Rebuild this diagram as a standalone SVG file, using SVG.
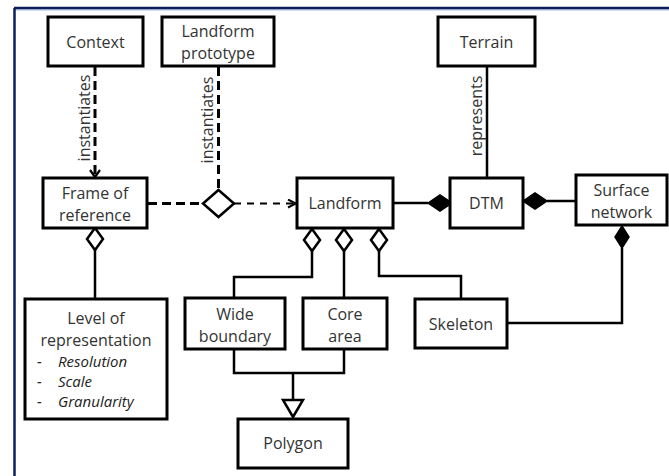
<svg xmlns="http://www.w3.org/2000/svg" width="669" height="476" viewBox="0 0 669 476">
<defs>
<style>
.box{fill:#fff;stroke:#000;stroke-width:3}
.t{font-family:"Open Sans","Liberation Sans",sans-serif;font-size:16px;fill:#333;text-anchor:middle}
.it{font-family:"Open Sans","Liberation Sans",sans-serif;font-size:15px;fill:#222;font-style:italic;font-weight:500}
.ln{fill:none;stroke:#000;stroke-width:2.5}
.dsh{fill:none;stroke:#000;stroke-width:3;stroke-dasharray:9 5}
.dsh2{fill:none;stroke:#000;stroke-width:2.2;stroke-dasharray:7 6}
.od{fill:#fff;stroke:#000;stroke-width:2.5}
.fd{fill:#000;stroke:#000;stroke-width:1.5}
</style>
<marker id="chev" viewBox="0 0 10 10" refX="9" refY="5" markerWidth="10" markerHeight="10" markerUnits="userSpaceOnUse" orient="auto">
<path d="M1,1 L9,5 L1,9" fill="none" stroke="#000" stroke-width="2"/>
</marker>
</defs>
<rect width="669" height="476" fill="#fff"/>
<g id="frame">
<line x1="14" y1="8" x2="669" y2="8" stroke="#0b1f5e" stroke-width="2.5"/>
<line x1="14" y1="9.8" x2="669" y2="9.8" stroke="#7f93c0" stroke-width="1"/>
<line x1="14.5" y1="8" x2="14.5" y2="476" stroke="#0b1f5e" stroke-width="2.5"/>
</g>
<g id="connectors">
<line class="dsh" x1="95" y1="67" x2="95" y2="176"/>
<path d="M90,170 L95,177 L100,170" fill="none" stroke="#000" stroke-width="2.2"/>
<text class="t" transform="translate(90,118) rotate(-90)">instantiates</text>
<line class="dsh" x1="218.5" y1="67" x2="218.5" y2="190"/>
<text class="t" transform="translate(213,120) rotate(-90)">instantiates</text>
<line class="dsh" x1="148" y1="203.5" x2="203" y2="203.5"/>
<line class="dsh2" x1="234" y1="203.5" x2="296" y2="203.5" marker-end="url(#chev)"/>
<polygon class="od" points="218.5,190 234,203.5 218.5,217 203,203.5"/>
<line class="ln" x1="487" y1="66" x2="487" y2="178"/>
<text class="t" transform="translate(482,116) rotate(-90)">represents</text>
<line class="ln" x1="393" y1="203" x2="428" y2="203"/>
<polygon class="fd" points="428,203 440,195 452,203 440,211"/>
<line class="ln" x1="547" y1="201" x2="576" y2="201"/>
<polygon class="fd" points="523,201 535,193 547,201 535,209"/>
<polyline class="ln" points="622,248 622,323 507,323"/>
<polygon class="fd" points="622,226 629,237 622,248 615,237"/>
<line class="ln" x1="95" y1="250" x2="95" y2="299"/>
<polygon class="od" points="95,228 103,239 95,250 87,239"/>
<polyline class="ln" points="312,251 312,277 234,277 234,298"/>
<polygon class="od" points="312,229 320,240 312,251 304,240"/>
<line class="ln" x1="344" y1="251" x2="344" y2="298"/>
<polygon class="od" points="344,229 352,240 344,251 336,240"/>
<polyline class="ln" points="379,251 379,276 461,276 461,299"/>
<polygon class="od" points="379,229 387,240 379,251 371,240"/>
<polyline class="ln" points="234,349 234,373 344,373 344,349"/>
<line class="ln" x1="293" y1="373" x2="293" y2="400"/>
<polygon class="od" points="283,400 303,400 293,417"/>
</g>
<g id="context"><rect class="box" x="48" y="17" width="95" height="49"/><text class="t" x="95.5" y="48">Context</text></g>
<g id="landform-prototype"><rect class="box" x="162" y="17" width="112" height="49"/><text class="t" x="218" y="37">Landform</text><text class="t" x="218" y="59">prototype</text></g>
<g id="terrain"><rect class="box" x="438" y="17" width="97" height="49"/><text class="t" x="486.5" y="48">Terrain</text></g>
<g id="frame-of-reference"><rect class="box" x="43" y="178" width="104" height="50"/><text class="t" x="95" y="199">Frame of</text><text class="t" x="95" y="221">reference</text></g>
<g id="landform"><rect class="box" x="297" y="178" width="96" height="50"/><text class="t" x="345" y="209">Landform</text></g>
<g id="dtm"><rect class="box" x="450" y="178" width="73" height="50"/><text class="t" x="486.5" y="209">DTM</text></g>
<g id="surface-network"><rect class="box" x="576" y="175" width="91" height="50"/><text class="t" x="621.5" y="196">Surface</text><text class="t" x="621.5" y="218">network</text></g>
<g id="level-of-representation"><rect class="box" x="25" y="299" width="142" height="120"/>
<text class="t" x="96" y="324">Level of</text><text class="t" x="96" y="346">representation</text>
<text class="it" x="37" y="367">-</text><text class="it" x="58" y="367">Resolution</text>
<text class="it" x="37" y="387">-</text><text class="it" x="58" y="387">Scale</text>
<text class="it" x="37" y="407">-</text><text class="it" x="58" y="407">Granularity</text></g>
<g id="wide-boundary"><rect class="box" x="185" y="298" width="100" height="51"/><text class="t" x="235" y="320">Wide</text><text class="t" x="235" y="342">boundary</text></g>
<g id="core-area"><rect class="box" x="303" y="298" width="84" height="51"/><text class="t" x="345" y="320">Core</text><text class="t" x="345" y="342">area</text></g>
<g id="skeleton"><rect class="box" x="415" y="299" width="92" height="49"/><text class="t" x="461" y="330">Skeleton</text></g>
<g id="polygon"><rect class="box" x="238" y="419" width="110" height="49"/><text class="t" x="293" y="449">Polygon</text></g>
</svg>
